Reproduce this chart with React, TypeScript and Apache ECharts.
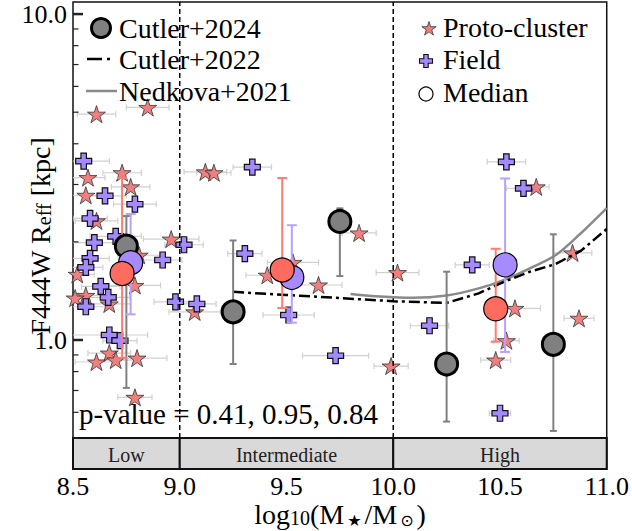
import React, { useEffect, useRef } from 'react';
import * as echarts from 'echarts';

const FONT = '"Liberation Serif", "DejaVu Serif", "Times New Roman", serif';

// ---- axes ----
const X_MIN = 8.5;
const X_MAX = 11.0;
const Y_MIN = 0.402;
const Y_MAX = 10.89;
const BAND_TOP = 0.5;
const xTicks = [8.5, 9.0, 9.5, 10.0, 10.5, 11.0];
const majorTicks = [1, 10];
const minorTicks = [0.5, 0.6, 0.7, 0.8, 0.9, 2, 3, 4, 5, 6, 7, 8, 9];
const binStarts = [8.5, 9.0, 10.0];
const binEnds = [9.0, 10.0, 11.0];
const binLabels = ['Low', 'Intermediate', 'High'];
const binDividers = [9.0, 10.0];

// ---- Proto-cluster galaxies ----
const protoX = [8.61, 8.85, 8.57, 8.73, 8.77, 8.56, 8.61, 8.96, 8.52, 8.81, 8.79, 8.56, 8.67, 8.51, 9.07, 8.67, 8.70, 8.61, 8.80, 8.79,
  9.12, 9.16, 9.41, 9.53, 9.65, 9.84, 10.02, 9.99, 10.67, 10.84, 10.57, 10.87, 10.53, 10.48];
const protoY = [4.93, 5.17, 3.15, 3.26, 2.95, 2.78, 2.32, 2.04, 1.59, 1.82, 1.47, 1.37, 1.29, 1.345, 1.22, 0.912, 0.868, 0.856, 0.88, 0.667,
  3.28, 3.26, 1.58, 1.73, 1.475, 2.13, 1.61, 0.832, 2.95, 1.85, 1.25, 1.166, 0.995, 0.868];
const protoXErr = [0.09, 0.10, 0.08, 0.09, 0.09, 0.08, 0.10, 0.13, 0.08, 0.10, 0.12, 0.08, 0.10, 0.06, 0.12, 0.10, 0.09, 0.10, 0.14, 0.08,
  0.10, 0.08, 0.10, 0.12, 0.11, 0.08, 0.10, 0.08, 0.06, 0.09, 0.12, 0.07, 0.06, 0.07];

// ---- Field galaxies ----
const fieldX = [8.55, 8.65, 8.79, 8.58, 8.70, 9.02, 8.60, 8.58, 8.56, 8.92, 8.63, 8.665, 8.56, 8.98, 9.08, 8.67, 8.72,
  9.34, 9.305, 9.51, 9.73, 10.53, 10.61, 10.37, 10.17, 10.50];
const fieldY = [3.54, 2.77, 2.61, 2.36, 2.08, 1.96, 1.99, 1.78, 1.67, 1.76, 1.46, 1.352, 1.265, 1.31, 1.29, 1.036, 0.995,
  3.39, 1.84, 1.193, 0.895, 3.52, 2.92, 1.70, 1.106, 0.596];
const fieldXErr = [0.12, 0.10, 0.10, 0.08, 0.12, 0.09, 0.12, 0.09, 0.08, 0.09, 0.09, 0.10, 0.09, 0.10, 0.09, 0.18, 0.08,
  0.09, 0.08, 0.12, 0.155, 0.09, 0.08, 0.08, 0.09, 0.05];

// ---- Cutler+2024 medians ----
const cutler24X = [8.75, 9.25, 9.75, 10.25, 10.75];
const cutler24Y = [1.94, 1.22, 2.31, 0.844, 0.97];
const cutler24Lo = [0.713, 0.844, 1.571, 0.562, 0.526];
const cutler24Hi = [2.40, 2.02, 2.535, 1.62, 2.11];

// ---- Proto-cluster medians ----
const protoMedX = [8.73, 9.48, 10.48];
const protoMedY = [1.60, 1.64, 1.247];
const protoMedLo = [0.882, 1.254, 0.988];
const protoMedHi = [3.14, 3.14, 1.905];

// ---- Field medians ----
const fieldMedX = [8.77, 9.525, 10.524];
const fieldMedY = [1.726, 1.556, 1.70];
const fieldMedLo = [1.199, 1.13, 0.919];
const fieldMedHi = [2.435, 2.25, 3.13];

// ---- Relations ----
const cutler22X = [9.25, 9.5, 9.75, 10.0, 10.25, 10.4, 10.52, 10.64, 10.76, 10.88, 11.0];
const cutler22Y = [1.405, 1.375, 1.345, 1.315, 1.30, 1.39, 1.51, 1.62, 1.71, 1.88, 2.19];
const nedkovaX = [9.8, 9.94, 10.09, 10.25, 10.4, 10.52, 10.64, 10.76, 10.87, 11.0];
const nedkovaY = [1.385, 1.36, 1.348, 1.37, 1.44, 1.53, 1.66, 1.82, 2.10, 2.54];

const PVALUE_TEXT = 'p-value = 0.41, 0.95, 0.84';

const STAR_COLOR = '#F08080';
const PLUS_COLOR = '#A58AFF';
const RED_MED = '#FF6B5E';
const RED_BAR = '#FF7B73';
const PURPLE_MED = '#A68AFF';
const PURPLE_BAR = '#B8A2FF';
const GREY = '#808080';

const STAR_PATH = 'path://M50 0L61.2 34.6L97.55 34.55L68.1 56L79.39 90.45L50 69.1L20.61 90.45L31.9 56L2.45 34.55L38.8 34.6Z';
const PLUS_PATH = 'path://M33 0H67V33H100V67H67V100H33V67H0V33H33Z';

function starPoints(cx: number, cy: number, R: number) {
  const pts: number[][] = [];
  const r = R * 0.382;
  for (let i = 0; i < 10; i++) {
    const a = -Math.PI / 2 + (i * Math.PI) / 5;
    const rr = i % 2 === 0 ? R : r;
    pts.push([cx + rr * Math.cos(a), cy + rr * Math.sin(a)]);
  }
  return pts;
}
function plusPoints(cx: number, cy: number, s: number) {
  const h = s / 2;
  const t = s * 0.17;
  return [
    [cx - t, cy - h], [cx + t, cy - h], [cx + t, cy - t], [cx + h, cy - t], [cx + h, cy + t], [cx + t, cy + t],
    [cx + t, cy + h], [cx - t, cy + h], [cx - t, cy + t], [cx - h, cy + t], [cx - h, cy - t], [cx - t, cy - t],
  ];
}

function xErrSeries(xs: number[], ys: number[], es: number[], z: number) {
  return {
    type: 'custom',
    z,
    clip: true,
    silent: true,
    data: xs.map((x, i) => [x, ys[i], es[i]]),
    renderItem: (_p: any, api: any) => {
      const x = api.value(0), y = api.value(1), e = api.value(2);
      const a = api.coord([x - e, y]);
      const b = api.coord([x + e, y]);
      const st = { stroke: '#D0D0D0', lineWidth: 1.2 };
      return {
        type: 'group',
        children: [
          { type: 'line', shape: { x1: a[0], y1: a[1], x2: b[0], y2: b[1] }, style: st },
          { type: 'line', shape: { x1: a[0], y1: a[1] - 3, x2: a[0], y2: a[1] + 3 }, style: st },
          { type: 'line', shape: { x1: b[0], y1: b[1] - 3, x2: b[0], y2: b[1] + 3 }, style: st },
        ],
      };
    },
  };
}

function yErrSeries(xs: number[], lo: number[], hi: number[], color: string, cap: number, z: number) {
  return {
    type: 'custom',
    z,
    silent: true,
    data: xs.map((x, i) => [x, lo[i], hi[i]]),
    renderItem: (_p: any, api: any) => {
      const x = api.value(0);
      const a = api.coord([x, api.value(1)]);
      const b = api.coord([x, api.value(2)]);
      const st = { stroke: color, lineWidth: 2 };
      return {
        type: 'group',
        children: [
          { type: 'line', shape: { x1: a[0], y1: a[1], x2: b[0], y2: b[1] }, style: st },
          { type: 'line', shape: { x1: a[0] - cap, y1: a[1], x2: a[0] + cap, y2: a[1] }, style: st },
          { type: 'line', shape: { x1: b[0] - cap, y1: b[1], x2: b[0] + cap, y2: b[1] }, style: st },
        ],
      };
    },
  };
}

export default function App() {
  const ref = useRef<HTMLDivElement>(null);
  useEffect(() => {
    document.body.style.margin = '0';
    if (!ref.current) return;
    const chart = echarts.init(ref.current, undefined, { renderer: 'svg' });
    const near = (v: number, t: number) => Math.abs(v - t) < 1e-6 * t;

    const option: any = {
      animation: false,
      backgroundColor: '#fff',
      textStyle: { fontFamily: FONT },
      grid: {
        left: 73, right: 25, top: 2, bottom: 62,
        show: true, borderColor: '#111', borderWidth: 1.5, backgroundColor: 'transparent',
      },
      xAxis: {
        type: 'value', min: X_MIN, max: X_MAX, interval: 0.5,
        axisLine: { show: false }, axisTick: { show: false }, splitLine: { show: false },
        axisLabel: {
          fontSize: 26, color: '#000', fontFamily: FONT, margin: 4,
          formatter: (v: number) => (xTicks.some((t) => Math.abs(t - v) < 1e-6) ? v.toFixed(1) : ''),
        },
      },
      yAxis: {
        type: 'log', logBase: 10, min: Y_MIN, max: Y_MAX,
        axisLine: { show: false }, axisTick: { show: false }, splitLine: { show: false }, minorTick: { show: false },
        axisLabel: {
          fontSize: 26, color: '#000', fontFamily: FONT, margin: 6,
          formatter: (v: number) => (near(v, 1) ? '1.0' : near(v, 10) ? '10.0' : ''),
        },
      },
      series: [
        xErrSeries(protoX, protoY, protoXErr, 1),
        xErrSeries(fieldX, fieldY, fieldXErr, 1),
        {
          type: 'scatter', z: 2, symbol: STAR_PATH, symbolSize: 18, symbolKeepAspect: true,
          data: protoX.map((x, i) => [x, protoY[i]]),
          itemStyle: { color: STAR_COLOR, borderColor: '#333', borderWidth: 0.8, opacity: 1 },
        },
        {
          type: 'scatter', z: 2, symbol: PLUS_PATH, symbolSize: 16, symbolKeepAspect: true,
          data: fieldX.map((x, i) => [x, fieldY[i]]),
          itemStyle: { color: PLUS_COLOR, borderColor: '#111', borderWidth: 1.2, opacity: 1 },
        },
        {
          type: 'custom', z: 3, silent: true,
          data: binDividers.map((x) => [x, BAND_TOP]),
          renderItem: (_p: any, api: any) => {
            const a = api.coord([api.value(0), BAND_TOP]);
            const b = api.coord([api.value(0), Y_MAX]);
            return {
              type: 'line', shape: { x1: a[0], y1: a[1], x2: b[0], y2: b[1] },
              style: { stroke: '#000', lineWidth: 1.5, lineDash: [5, 3] },
            };
          },
        },
        {
          type: 'line', z: 3, symbol: 'none', smooth: 0.3,
          data: nedkovaX.map((x, i) => [x, nedkovaY[i]]),
          lineStyle: { color: '#8A8A8A', width: 2.5 },
        },
        {
          type: 'line', z: 3, symbol: 'none',
          data: cutler22X.map((x, i) => [x, cutler22Y[i]]),
          lineStyle: { color: '#000', width: 2.5, type: [11, 4, 3, 4] },
        },
        yErrSeries(cutler24X, cutler24Lo, cutler24Hi, GREY, 3.5, 4),
        yErrSeries(fieldMedX, fieldMedLo, fieldMedHi, PURPLE_BAR, 5, 4),
        yErrSeries(protoMedX, protoMedLo, protoMedHi, RED_BAR, 5, 4),
        {
          type: 'scatter', z: 5, symbol: 'circle', symbolSize: 22,
          data: cutler24X.map((x, i) => [x, cutler24Y[i]]),
          itemStyle: { color: GREY, borderColor: '#000', borderWidth: 3, opacity: 1 },
        },
        {
          type: 'scatter', z: 5, symbol: 'circle', symbolSize: 24,
          data: fieldMedX.map((x, i) => [x, fieldMedY[i]]),
          itemStyle: { color: PURPLE_MED, borderColor: '#000', borderWidth: 1.2, opacity: 1 },
        },
        {
          type: 'scatter', z: 5, symbol: 'circle', symbolSize: 24,
          data: protoMedX.map((x, i) => [x, protoMedY[i]]),
          itemStyle: { color: RED_MED, borderColor: '#000', borderWidth: 1.2, opacity: 1 },
        },
        {
          type: 'custom', z: 6, silent: true,
          data: binStarts.map((s, i) => [s, BAND_TOP, binEnds[i], i]),
          renderItem: (_p: any, api: any) => {
            const a = api.coord([api.value(0), BAND_TOP]);
            const b = api.coord([api.value(2), Y_MIN]);
            const idx = api.value(3);
            return {
              type: 'group',
              children: [
                {
                  type: 'rect', shape: { x: a[0], y: a[1], width: b[0] - a[0], height: b[1] - a[1] },
                  style: { fill: '#D9D9D9', stroke: '#111', lineWidth: 2 },
                },
                {
                  type: 'text', x: (a[0] + b[0]) / 2, y: (a[1] + b[1]) / 2 + 1,
                  style: {
                    text: binLabels[idx], fontSize: 20, fontFamily: FONT, fill: '#222',
                    align: 'center', verticalAlign: 'middle',
                  },
                },
              ],
            };
          },
        },
        {
          type: 'custom', z: 7, silent: true,
          data: [...majorTicks.map((v) => [X_MIN, v, 1]), ...minorTicks.map((v) => [X_MIN, v, 0])],
          renderItem: (_p: any, api: any) => {
            const p = api.coord([X_MIN, api.value(1)]);
            const major = api.value(2) === 1;
            const len = major ? 10 : 5.5;
            return {
              type: 'line', shape: { x1: p[0], y1: p[1], x2: p[0] + len, y2: p[1] },
              style: { stroke: '#222', lineWidth: major ? 2.5 : 1.2 },
            };
          },
        },
      ],
      graphic: [
        // left legend
        { type: 'circle', z: 100, shape: { cx: 101, cy: 28, r: 9.5 }, style: { fill: GREY, stroke: '#000', lineWidth: 3 } },
        { type: 'text', z: 100, x: 119, y: 28, style: { text: 'Cutler+2024', fontSize: 28, fontFamily: FONT, fill: '#000', verticalAlign: 'middle' } },
        { type: 'line', z: 100, shape: { x1: 87, y1: 59, x2: 115, y2: 59 }, style: { stroke: '#000', lineWidth: 2.5, lineDash: [15, 5, 3, 5] } },
        { type: 'text', z: 100, x: 119, y: 59, style: { text: 'Cutler+2022', fontSize: 28, fontFamily: FONT, fill: '#000', verticalAlign: 'middle' } },
        { type: 'line', z: 100, shape: { x1: 86, y1: 91, x2: 117, y2: 91 }, style: { stroke: '#8A8A8A', lineWidth: 2.5 } },
        { type: 'text', z: 100, x: 119, y: 91, style: { text: 'Nedkova+2021', fontSize: 28, fontFamily: FONT, fill: '#000', verticalAlign: 'middle' } },
        // right legend
        { type: 'polygon', z: 100, shape: { points: starPoints(429, 29, 7.5) }, style: { fill: STAR_COLOR, stroke: '#333', lineWidth: 0.8 } },
        { type: 'text', z: 100, x: 443, y: 27, style: { text: 'Proto-cluster', fontSize: 28, fontFamily: FONT, fill: '#000', verticalAlign: 'middle' } },
        { type: 'polygon', z: 100, shape: { points: plusPoints(426, 61, 13) }, style: { fill: PLUS_COLOR, stroke: '#111', lineWidth: 1.1 } },
        { type: 'text', z: 100, x: 443, y: 59, style: { text: 'Field', fontSize: 28, fontFamily: FONT, fill: '#000', verticalAlign: 'middle' } },
        { type: 'circle', z: 100, shape: { cx: 426, cy: 94, r: 7 }, style: { fill: 'none', stroke: '#000', lineWidth: 1.2 } },
        { type: 'text', z: 100, x: 443, y: 92, style: { text: 'Median', fontSize: 28, fontFamily: FONT, fill: '#000', verticalAlign: 'middle' } },
        // p-value
        { type: 'text', z: 100, x: 79, y: 414, style: { text: PVALUE_TEXT, fontSize: 29, fontFamily: FONT, fill: '#000', verticalAlign: 'middle' } },
        // axis names
        {
          type: 'text', z: 100, x: 340, y: 514,
          style: {
            text: 'log{s|10}(M{t|★}/M{t|⊙})', fontSize: 28, fontFamily: FONT, fill: '#000',
            align: 'center', verticalAlign: 'middle',
            rich: {
              s: { fontSize: 20, fontFamily: FONT, lineHeight: 22, verticalAlign: 'bottom', padding: [10, 0, 0, 0] },
              t: { fontSize: 16, fontFamily: '"DejaVu Sans", sans-serif', lineHeight: 18, verticalAlign: 'bottom', padding: [10, 3, 0, 3] },
            },
          },
        },
        {
          type: 'text', z: 100, x: 40, y: 236, rotation: Math.PI / 2,
          style: {
            text: 'F444W R{s|eff} [kpc]', fontSize: 28, fontFamily: FONT, fill: '#000',
            align: 'center', verticalAlign: 'middle',
            rich: {
              s: { fontSize: 20, fontFamily: FONT, lineHeight: 22, verticalAlign: 'bottom', padding: [8, 0, 0, 0] },
            },
          },
        },
      ],
    };
    chart.setOption(option);
    return () => chart.dispose();
  }, []);
  return <div ref={ref} style={{ width: 632, height: 531 }} />;
}
